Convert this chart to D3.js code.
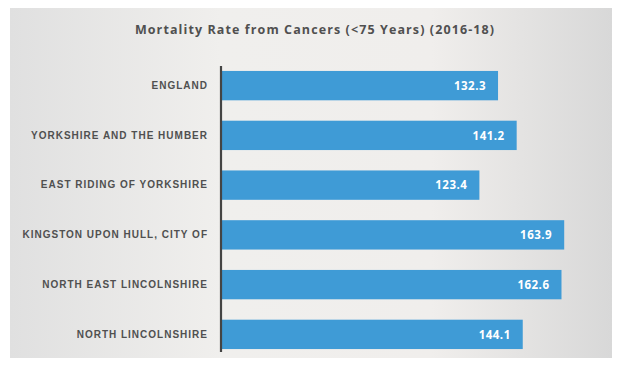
<!DOCTYPE html>
<html>
<head>
<meta charset="utf-8">
<script src="https://cdn.jsdelivr.net/npm/d3@7"></script>
<style>
  html, body { margin: 0; padding: 0; background: #ffffff; }
  svg { display: block; }
</style>
</head>
<body>
<svg id="chart" width="617" height="369"></svg>
<script>
// Under-75 cancer mortality rate per 100,000, 2016-18
const areas = [
  "ENGLAND",
  "YORKSHIRE AND THE HUMBER",
  "EAST RIDING OF YORKSHIRE",
  "KINGSTON UPON HULL, CITY OF",
  "NORTH EAST LINCOLNSHIRE",
  "NORTH LINCOLNSHIRE"
];
const rates = [132.3, 141.2, 123.4, 163.9, 162.6, 144.1];
const valueLabels = ["132.3", "141.2", "123.4", "163.9", "162.6", "144.1"];
const chartTitle = "Mortality Rate from Cancers (<75 Years) (2016-18)";

const svg = d3.select("#chart");

// panel background with soft light-gray shading
const defs = svg.append("defs");
const grad = defs.append("linearGradient").attr("id", "panelBg")
  .attr("x1", "0").attr("x2", "1").attr("y1", "0").attr("y2", "0");
grad.append("stop").attr("offset", "0%").attr("stop-color", "#e0e0e0");
grad.append("stop").attr("offset", "35%").attr("stop-color", "#f0efed");
grad.append("stop").attr("offset", "70%").attr("stop-color", "#f0eeec");
grad.append("stop").attr("offset", "100%").attr("stop-color", "#d8d8d8");

svg.append("rect")
  .attr("x", 10).attr("y", 8)
  .attr("width", 602).attr("height", 350)
  .attr("fill", "url(#panelBg)");

const margin = { left: 221, top: 62 };
const x = d3.scaleLinear().domain([0, 100]).range([margin.left, margin.left + 209.4]);
const y = d3.scaleBand().domain(areas)
  .range([margin.top, 358])
  .paddingInner(0.41).paddingOuter(0.18);

// title
svg.append("text")
  .attr("x", 315).attr("y", 34)
  .attr("text-anchor", "middle")
  .attr("font-family", "'Open Sans', sans-serif")
  .attr("font-weight", 700)
  .attr("font-size", 12.5)
  .attr("letter-spacing", 1.1)
  .attr("fill", "#505050")
  .text(chartTitle);

// bars
const rows = areas.map((a, i) => ({ area: a, rate: rates[i], label: valueLabels[i] }));

svg.append("g").selectAll("rect")
  .data(rows).join("rect")
  .attr("x", x(0))
  .attr("y", d => y(d.area))
  .attr("width", d => x(d.rate) - x(0))
  .attr("height", y.bandwidth())
  .attr("fill", "#3f9bd6");

// value labels inside bar ends
svg.append("g").selectAll("text")
  .data(rows).join("text")
  .attr("x", d => x(d.rate) - 12)
  .attr("y", d => y(d.area) + y.bandwidth() / 2)
  .attr("dy", "0.36em")
  .attr("text-anchor", "end")
  .attr("font-family", "'Open Sans', sans-serif")
  .attr("font-weight", 700)
  .attr("font-size", 11.5)
  .attr("letter-spacing", 0.5)
  .attr("fill", "#ffffff")
  .text(d => d.label);

// category axis
const yAxis = d3.axisLeft(y).tickSize(0).tickPadding(13);
const axisG = svg.append("g")
  .attr("transform", `translate(${x(0)},0)`)
  .call(yAxis);
axisG.select(".domain")
  .attr("d", "M0,66V352")
  .attr("stroke", "#444444")
  .attr("stroke-width", 2.2);
axisG.selectAll("text")
  .attr("font-family", "'Liberation Sans', sans-serif")
  .attr("font-weight", 700)
  .attr("font-size", 10)
  .attr("letter-spacing", 1.0)
  .attr("fill", "#505050");
</script>
</body>
</html>
